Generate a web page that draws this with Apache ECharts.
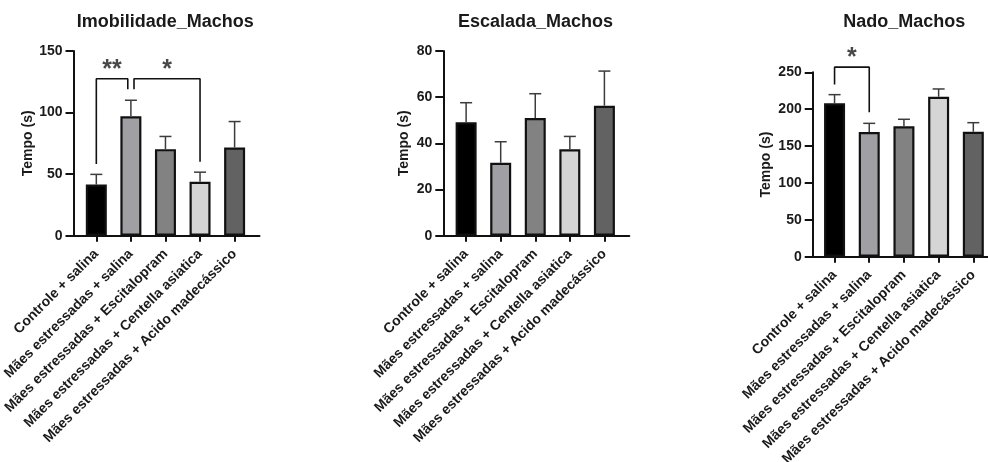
<!DOCTYPE html>
<html>
<head>
<meta charset="utf-8">
<script src="https://cdn.jsdelivr.net/npm/echarts@6/dist/echarts.min.js"></script>
<style>
  html, body { margin: 0; padding: 0; background: #fff; }
  #chart { width: 988px; height: 462px; }
</style>
</head>
<body>
<div id="chart"></div>
<script>
// Group labels (shared by the three panels)
const categories = [
  'Controle + salina',
  'Mães estressadas + salina',
  'Mães estressadas + Escitalopram',
  'Mães estressadas + Centella asiatica',
  'Mães estressadas + Acido madecássico'
];

// Panel titles
const titles = ['Imobilidade_Machos', 'Escalada_Machos', 'Nado_Machos'];

// Mean time (s) and SEM for each group
const imobilidadeMean = [41.5, 97.0, 70.3, 43.8, 71.6];
const imobilidadeSem  = [8.3, 13.0, 10.3, 7.8, 21.1];
const escaladaMean    = [49.1, 31.6, 51.0, 37.4, 56.3];
const escaladaSem     = [8.5, 9.1, 10.5, 5.6, 15.0];
const nadoMean        = [208.0, 169.1, 176.8, 216.9, 169.5];
const nadoSem         = [11.7, 11.7, 9.5, 10.5, 12.2];

// Y axis ranges
const yMax      = [150, 80, 250];
const yInterval = [50, 20, 50];

// Significance brackets: group positions, bracket height, leg ends, label
const imobilidadeSig = [
  { from: 0, to: 0.91, top: 127.5, fromEnd: 58.2, toEnd: 118.9, label: '**' },
  { from: 1.09, to: 3, top: 127.5, fromEnd: 118.9, toEnd: 60.0, label: '*' }
];
const escaladaSig = [];
const nadoSig = [
  { from: 0, to: 1, top: 257, fromEnd: 233.5, toEnd: 195.8, label: '*' }
];

const barColors = ['#000000', '#9f9fa4', '#828282', '#d5d5d5', '#626262'];
const FONT = "'Liberation Sans', Arial, sans-serif";
const TEXT = '#1a1a1a';

const panels = [
  { mean: imobilidadeMean, sem: imobilidadeSem, sig: imobilidadeSig,
    grid: { left: 73.5, top: 51, width: 186, height: 184.7 }, xMin: -0.66, xMax: 4.72, nameGap: 38, titleX: 165.3, titleY: 21.7 },
  { mean: escaladaMean, sem: escaladaSem, sig: escaladaSig,
    grid: { left: 443.3, top: 51, width: 186, height: 184.7 }, xMin: -0.66, xMax: 4.72, nameGap: 32, titleX: 535.5, titleY: 21.7 },
  { mean: nadoMean, sem: nadoSem, sig: nadoSig,
    grid: { left: 812.7, top: 72.3, width: 185.6, height: 184.4 }, xMin: -0.63, xMax: 4.72, nameGap: 40, titleX: 904.3, titleY: 21.7 }
];

const idx = categories.map((_, i) => i);

const grids = [], xAxes = [], yAxes = [], series = [], graphics = [];

panels.forEach((p, k) => {
  grids.push(Object.assign({ containLabel: false, outerBoundsMode: 'none' }, p.grid));

  xAxes.push({
    type: 'value', gridIndex: k, min: p.xMin, max: p.xMax,
    splitLine: { show: false },
    axisLine: { show: true, onZero: false, lineStyle: { color: '#111', width: 2 } },
    axisTick: { show: true, customValues: idx, length: 6, lineStyle: { color: '#111', width: 2 } },
    axisLabel: {
      show: true, customValues: idx, rotate: 45, margin: 16,
      formatter: v => categories[Math.round(v)],
      fontFamily: FONT, fontWeight: 'bold', fontSize: 14, color: TEXT
    }
  });

  yAxes.push({
    type: 'value', gridIndex: k, min: 0, max: yMax[k], interval: yInterval[k],
    splitLine: { show: false },
    axisLine: { show: true, onZero: false, lineStyle: { color: '#111', width: 2 } },
    axisTick: { show: true, length: 8, lineStyle: { color: '#111', width: 2 } },
    axisLabel: { margin: 11, fontFamily: FONT, fontWeight: 'bold', fontSize: 14, color: TEXT },
    name: 'Tempo (s)', nameLocation: 'middle', nameGap: p.nameGap,
    nameTextStyle: { fontFamily: FONT, fontWeight: 'bold', fontSize: 14, color: TEXT }
  });

  // Bars
  series.push({
    type: 'bar', xAxisIndex: k, yAxisIndex: k, barWidth: 21,
    data: p.mean.map((m, i) => ({
      value: [i, m],
      itemStyle: { color: barColors[i], borderColor: '#111', borderWidth: 2.2 }
    })),
    z: 2
  });

  // Upper SEM whiskers
  series.push({
    type: 'custom', xAxisIndex: k, yAxisIndex: k, z: 3,
    encode: { x: 0, y: 1 },
    data: p.mean.map((m, i) => [i, m, p.sem[i]]),
    renderItem: (params, api) => {
      const x = api.value(0), m = api.value(1), s = api.value(2);
      const p0 = api.coord([x, m]);
      const p1 = api.coord([x, m + s]);
      const st = { stroke: '#3c3c3c', lineWidth: 1.5 };
      return {
        type: 'group',
        children: [
          { type: 'line', shape: { x1: p0[0], y1: p0[1], x2: p1[0], y2: p1[1] }, style: st },
          { type: 'line', shape: { x1: p1[0] - 6, y1: p1[1], x2: p1[0] + 6, y2: p1[1] }, style: st }
        ]
      };
    }
  });

  // Significance brackets and asterisks
  p.sig.forEach(s => {
    series.push({
      type: 'line', xAxisIndex: k, yAxisIndex: k, clip: false, silent: true,
      showSymbol: false, symbol: 'none', z: 4,
      lineStyle: { color: '#111', width: 1.6 },
      data: [[s.from, s.fromEnd], [s.from, s.top], [s.to, s.top], [s.to, s.toEnd]]
    });
    series.push({
      type: 'scatter', xAxisIndex: k, yAxisIndex: k, clip: false, silent: true,
      symbol: 'circle', symbolSize: 1, itemStyle: { color: 'rgba(0,0,0,0)' }, z: 4,
      data: [{ name: s.label, value: [(s.from + s.to) / 2, s.top] }],
      label: {
        show: true, position: 'top', distance: 0, formatter: '{b}',
        fontFamily: FONT, fontWeight: 'bold', fontSize: 25, color: TEXT,
        offset: [0, 4]
      }
    });
  });

  graphics.push({
    type: 'text', x: p.titleX, y: p.titleY,
    style: {
      text: titles[k], fill: TEXT,
      font: "bold 18px 'Liberation Sans', Arial, sans-serif",
      textAlign: 'center', textVerticalAlign: 'middle'
    }
  });
});

const chart = echarts.init(document.getElementById('chart'), null, { renderer: 'canvas' });
chart.setOption({
  animation: false,
  backgroundColor: '#fff',
  grid: grids,
  xAxis: xAxes,
  yAxis: yAxes,
  series: series,
  graphic: graphics
});
</script>
</body>
</html>
